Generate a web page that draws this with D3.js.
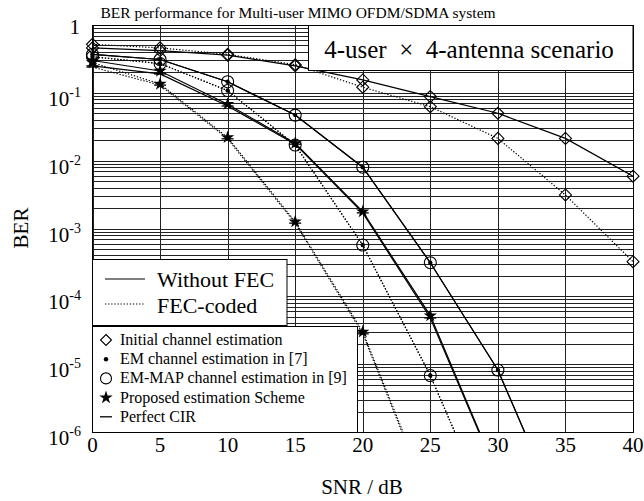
<!DOCTYPE html>
<html><head><meta charset="utf-8">
<script src="https://cdn.jsdelivr.net/npm/d3@7"></script>
<style>body{margin:0;background:#fff}svg{display:block}</style>
</head><body>
<svg id="c" width="644" height="501"></svg>
<script>
// ---- data ----
const snr = [0, 5, 10, 15, 20, 25, 30, 35, 40];
const xTicks = [0, 5, 10, 15, 20, 25, 30, 35, 40];
const yTickExps = [0, -1, -2, -3, -4, -5, -6];
const initialUncoded = [0.46, 0.42, 0.36, 0.25, 0.155, 0.088, 0.050, 0.0213, 0.0059];
const initialCoded   = [0.52, 0.46, 0.37, 0.26, 0.121, 0.0625, 0.0213, 0.00312, 0.000324];
const emUncoded      = [0.37, 0.31, 0.146, 0.047, 0.0080, 0.000313, 8.2e-6, 4e-8];
const emCoded        = [0.34, 0.27, 0.108, 0.017, 0.00057, 6.8e-6, 3.4e-8];
const emMapUncoded   = [0.37, 0.31, 0.146, 0.047, 0.0080, 0.000313, 8.2e-6, 4e-8];
const emMapCoded     = [0.34, 0.27, 0.108, 0.017, 0.00057, 6.8e-6, 3.4e-8];
const proposedUncoded= [0.30, 0.21, 0.068, 0.018, 0.00177, 5.2e-5, 2.3e-7];
const proposedCoded  = [0.28, 0.135, 0.022, 0.00126, 3.0e-5, 1e-7];
const perfectUncoded = [0.25, 0.19, 0.064, 0.0175, 0.0017, 4.8e-5, 2.2e-7];
const perfectCoded   = [0.24, 0.13, 0.021, 0.0012, 2.8e-5, 9e-8];
const titleText = "BER performance for Multi-user MIMO OFDM/SDMA system";
const scenarioText = "4-user\u2002\u00d7\u20024-antenna scenario";
const fecLabels = ["Without FEC", "FEC-coded"];
const methodLabels = ["Initial channel estimation", "EM channel estimation in [7]",
  "EM-MAP channel estimation in [9]", "Proposed estimation Scheme", "Perfect CIR"];

const series = [
  {v: initialUncoded, m: "diamond", d: false},
  {v: initialCoded, m: "diamond", d: true},
  {v: perfectUncoded, m: "dash", d: false},
  {v: perfectCoded, m: "dash", d: true},
  {v: proposedUncoded, m: "star", d: false},
  {v: proposedCoded, m: "star", d: true},
  {v: emMapUncoded, m: "circle", d: false},
  {v: emMapCoded, m: "circle", d: true},
  {v: emUncoded, m: "dot", d: false},
  {v: emCoded, m: "dot", d: true},
];

// ---- layout ----
const FONT = "'Liberation Serif','Times New Roman',serif";
const L = 92.5, R = 633, T = 25, B = 432;
const svg = d3.select("#c");
const x = d3.scaleLinear().domain([0, 40]).range([L, R]);
const y = d3.scaleLog().domain([1e-6, 1]).range([B, T]);

svg.append("defs").append("clipPath").attr("id", "pc")
  .append("rect").attr("x", L).attr("y", T).attr("width", R - L).attr("height", B - T);

// grid
const g = svg.append("g").attr("shape-rendering", "crispEdges");
const minor = [];
for (let e = -6; e < 0; e++) for (let k = 1; k <= 9; k++) minor.push(k * Math.pow(10, e));
g.selectAll("line.h").data(minor).join("line")
  .attr("x1", L).attr("x2", R).attr("y1", d => Math.round(y(d)) + 0.5).attr("y2", d => Math.round(y(d)) + 0.5)
  .attr("stroke", "#222").attr("stroke-width", 1);
g.selectAll("line.v").data(xTicks).join("line")
  .attr("x1", d => Math.round(x(d)) + 0.5).attr("x2", d => Math.round(x(d)) + 0.5).attr("y1", T).attr("y2", B)
  .attr("stroke", "#222").attr("stroke-width", 1);
g.append("rect").attr("x", L).attr("y", T + 0.5).attr("width", R - L).attr("height", B - T)
  .attr("fill", "none").attr("stroke", "#000");

// lines
const line = d3.line().x((d, i) => x(snr[i])).y(d => y(d));
const lg = svg.append("g").attr("clip-path", "url(#pc)");
series.forEach(s => {
  lg.append("path").datum(s.v).attr("d", line).attr("fill", "none").attr("stroke", "#000")
    .attr("stroke-width", 1.2).attr("stroke-dasharray", s.d ? "1.3 1.8" : null);
});

// markers
function drawMarker(sel, m, cx, cy) {
  if (m === "diamond") sel.append("path").attr("d", `M${cx},${cy-6}L${cx+6},${cy}L${cx},${cy+6}L${cx-6},${cy}Z`)
    .attr("fill", "none").attr("stroke", "#000").attr("stroke-width", 1.1);
  else if (m === "circle") sel.append("circle").attr("cx", cx).attr("cy", cy).attr("r", 6)
    .attr("fill", "none").attr("stroke", "#000").attr("stroke-width", 1.1);
  else if (m === "dot") sel.append("circle").attr("cx", cx).attr("cy", cy).attr("r", 2.2).attr("fill", "#000");
  else if (m === "star") sel.append("path").attr("d", d3.symbol(d3.symbolStar, 55)())
    .attr("transform", `translate(${cx},${cy})`).attr("fill", "#000");
  else if (m === "dash") sel.append("line").attr("x1", cx - 6).attr("x2", cx + 6).attr("y1", cy).attr("y2", cy)
    .attr("stroke", "#000").attr("stroke-width", 1.3);
}
const mg = svg.append("g");
series.forEach(s => {
  s.v.forEach((v, i) => { if (v >= 1e-6) drawMarker(mg, s.m, x(snr[i]), y(v)); });
});

// axis labels
const ty = svg.append("g").attr("font-family", FONT).attr("fill", "#000");
yTickExps.forEach(e => {
  const v = Math.pow(10, e);
  if (e === 0) {
    ty.append("text").attr("x", 80).attr("y", y(v) + 9).attr("text-anchor", "end").attr("font-size", 21).text("1");
  } else {
    const t = ty.append("text").attr("x", 81).attr("y", y(v) + 13).attr("text-anchor", "end").attr("font-size", 21);
    t.append("tspan").text("10");
    t.append("tspan").attr("dy", -9).attr("font-size", 14).text(String(e));
  }
});
xTicks.forEach(d => {
  ty.append("text").attr("x", x(d)).attr("y", 452).attr("text-anchor", "middle").attr("font-size", 21).text(d);
});
ty.append("text").attr("transform", "translate(28,228) rotate(-90)").attr("text-anchor", "middle")
  .attr("font-size", 21).text("BER");
ty.append("text").attr("x", 362).attr("y", 494).attr("text-anchor", "middle").attr("font-size", 21).text("SNR / dB");
ty.append("text").attr("x", 298).attr("y", 18).attr("text-anchor", "middle").attr("font-size", 15.5).text(titleText);

// boxes
svg.append("rect").attr("x", 308.5).attr("y", 25.5).attr("width", 324.5).attr("height", 45)
  .attr("fill", "#fff").attr("stroke", "#000");
svg.append("rect").attr("x", 92.5).attr("y", 259.5).attr("width", 194.5).attr("height", 66)
  .attr("fill", "#fff").attr("stroke", "#000");
svg.append("rect").attr("x", 92.5).attr("y", 326.5).attr("width", 265).attr("height", 106)
  .attr("fill", "#fff").attr("stroke", "#000");

const bt = svg.append("g").attr("font-family", FONT).attr("fill", "#000");
bt.append("text").attr("x", 469).attr("y", 58).attr("text-anchor", "middle").attr("font-size", 25)
  .text(scenarioText);

// legend 1
[false, true].forEach((dd, i) => {
  const yy = 279 + i * 25;
  svg.append("line").attr("x1", 105).attr("x2", 145).attr("y1", yy).attr("y2", yy).attr("stroke", "#000")
    .attr("stroke-width", 1.2).attr("stroke-dasharray", dd ? "1.3 1.8" : null);
  bt.append("text").attr("x", 157).attr("y", 287 + i * 26).attr("font-size", 22).text(fecLabels[i]);
});

// legend 2
const lm = ["diamond", "dot", "circle", "star", "dash"];
const lgd = svg.append("g");
methodLabels.forEach((t, i) => {
  const base = 345 + i * 19.2;
  const cy = base - 5;
  if (lm[i] === "diamond") lgd.append("path").attr("d", `M106,${cy-5.5}L111.5,${cy}L106,${cy+5.5}L100.5,${cy}Z`)
    .attr("fill", "none").attr("stroke", "#000").attr("stroke-width", 1.1);
  else if (lm[i] === "circle") lgd.append("circle").attr("cx", 106).attr("cy", cy).attr("r", 5.5)
    .attr("fill", "none").attr("stroke", "#000").attr("stroke-width", 1.1);
  else drawMarker(lgd, lm[i], 106, cy);
  bt.append("text").attr("x", 120).attr("y", base).attr("font-size", 16).text(t);
});
</script>
</body></html>
